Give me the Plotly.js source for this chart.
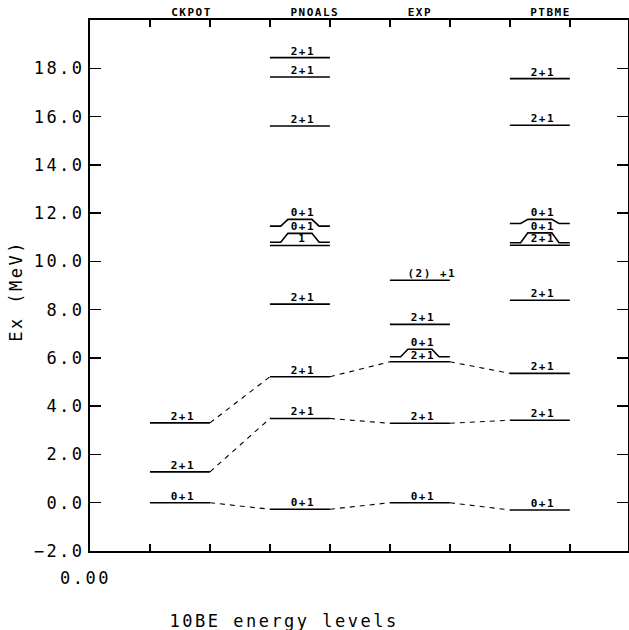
<!DOCTYPE html>
<html><head><meta charset="utf-8">
<script src="https://cdn.plot.ly/plotly-3.0.1.min.js"></script>
<style>
html,body{margin:0;padding:0;background:#fff;}
#chart{width:629px;height:630px;}
#chart text[style*="font-size: 17px"]{letter-spacing:2.5px;}
#chart text[style*="font-size: 11px"]{letter-spacing:1.5px;}
</style></head><body><div id="chart"></div>
<script>
// ---- data ----
const groups = ["CKPOT", "PNOALS", "EXP", "PTBME"];
const ckpotE = [0.0, 1.28, 3.31];
const ckpotJ = ["0+1", "2+1", "2+1"];
const pnoalsE = [-0.27, 3.49, 5.22, 8.23, 10.66, 10.79, 11.46, 15.61, 17.64, 18.44];
const pnoalsJ = ["0+1", "2+1", "2+1", "2+1", "1", "0+1", "0+1", "2+1", "2+1", "2+1"];
const expE = [0.0, 3.29, 5.84, 6.05, 7.39, 9.22];
const expJ = ["0+1", "2+1", "2+1", "0+1", "2+1", "(2) +1"];
const ptbmeE = [-0.30, 3.42, 5.36, 8.39, 10.67, 10.77, 11.57, 15.64, 17.57];
const ptbmeJ = ["0+1", "2+1", "2+1", "2+1", "2+1", "0+1", "0+1", "2+1", "2+1"];
const linkedLevels = [0, 1, 2];           // level index joined across the calculations
const yTicks = [-2, 0, 2, 4, 6, 8, 10, 12, 14, 16, 18];
const xTicks = [0, 1, 2, 3, 4, 5, 6, 7, 8];
const xTickText = ["0.00", "", "", "", "", "", "", "", ""];
const yTitle = "Ex (MeV)";
const xTitle = "10BE energy levels";

// ---- layout helpers (positions / styles) ----
const energies = [ckpotE, pnoalsE, expE, ptbmeE];
const spins = [ckpotJ, pnoalsJ, expJ, ptbmeJ];
const groupLeft = [1, 3, 5, 7];
const groupLabelX = [1.7, 3.75, 5.5, 7.67];
const labelLift = [{}, {5: 0.37, 6: 0.28}, {3: 0.31}, {5: 0.41, 6: 0.17}];
const bigFont = {family: "DejaVu Sans Mono", size: 17, color: "#000"};
const smallFont = {family: "DejaVu Sans Mono", size: 11, color: "#000", weight: "bold"};

const lx = [], ly = [];
const annotations = [];
energies.forEach((arr, g) => {
  const x0 = groupLeft[g];
  arr.forEach((e, i) => {
    const r = labelLift[g][i] || 0;
    if (r) {
      lx.push(x0, x0 + 0.18, x0 + 0.3, x0 + 0.7, x0 + 0.82, x0 + 1, null);
      ly.push(e, e, e + r, e + r, e, e, null);
    } else {
      lx.push(x0, x0 + 1, null);
      ly.push(e, e, null);
    }
    const t = spins[g][i];
    annotations.push({
      x: x0 + 0.55 + (t.length > 3 ? 0.15 : 0), y: e + r, xref: "x", yref: "y",
      text: t, showarrow: false, yanchor: "bottom", xanchor: "center", yshift: -2,
      font: smallFont
    });
  });
  annotations.push({
    x: groupLabelX[g], y: 1, xref: "x", yref: "paper", text: groups[g],
    showarrow: false, yanchor: "bottom", xanchor: "center", yshift: -1,
    font: smallFont
  });
});

const dx = [], dy = [];
linkedLevels.forEach(i => {
  for (let g = 0; g < energies.length - 1; g++) {
    dx.push(groupLeft[g] + 1, groupLeft[g + 1], null);
    dy.push(energies[g][i], energies[g + 1][i], null);
  }
});

annotations.push({
  x: 0, y: -0.051, xref: "x", yref: "paper", text: xTickText[0], showarrow: false,
  xanchor: "center", yanchor: "middle", xshift: -5, font: bigFont
});
annotations.push({
  x: 0.36, y: -0.131, xref: "paper", yref: "paper", text: xTitle, showarrow: false,
  xanchor: "center", yanchor: "middle", font: bigFont
});
annotations.push({
  x: -0.1375, y: 0.49, xref: "paper", yref: "paper", text: yTitle, showarrow: false,
  textangle: -90, xanchor: "center", yanchor: "middle", font: bigFont
});

const traces = [
  {x: lx, y: ly, type: "scatter", mode: "lines", line: {color: "#000", width: 1.6},
   hoverinfo: "skip", showlegend: false, connectgaps: false},
  {x: dx, y: dy, type: "scatter", mode: "lines", line: {color: "#000", width: 1.1, dash: "5px,5px"},
   hoverinfo: "skip", showlegend: false, connectgaps: false}
];

const layout = {
  width: 629, height: 630,
  margin: {l: 90, r: 1, t: 20, b: 79},
  paper_bgcolor: "#fff", plot_bgcolor: "#fff",
  showlegend: false,
  xaxis: {
    range: [0, 8.97], tickvals: xTicks, ticktext: xTickText, showticklabels: false,
    ticks: "inside", ticklen: 7, tickwidth: 1.5, tickcolor: "#000",
    showline: true, linecolor: "#000", linewidth: 2, mirror: "ticks",
    showgrid: false, zeroline: false, fixedrange: true
  },
  yaxis: {
    range: [-2, 20], tickvals: yTicks, tickformat: ".1f",
    ticks: "inside", ticklen: 11, tickwidth: 1.5, tickcolor: "#000",
    showline: true, linecolor: "#000", linewidth: 2, mirror: "ticks",
    showgrid: false, zeroline: false, fixedrange: true,
    tickfont: bigFont
  },
  annotations: annotations
};

Plotly.newPlot("chart", traces, layout, {staticPlot: true, displayModeBar: false});
</script></body></html>
